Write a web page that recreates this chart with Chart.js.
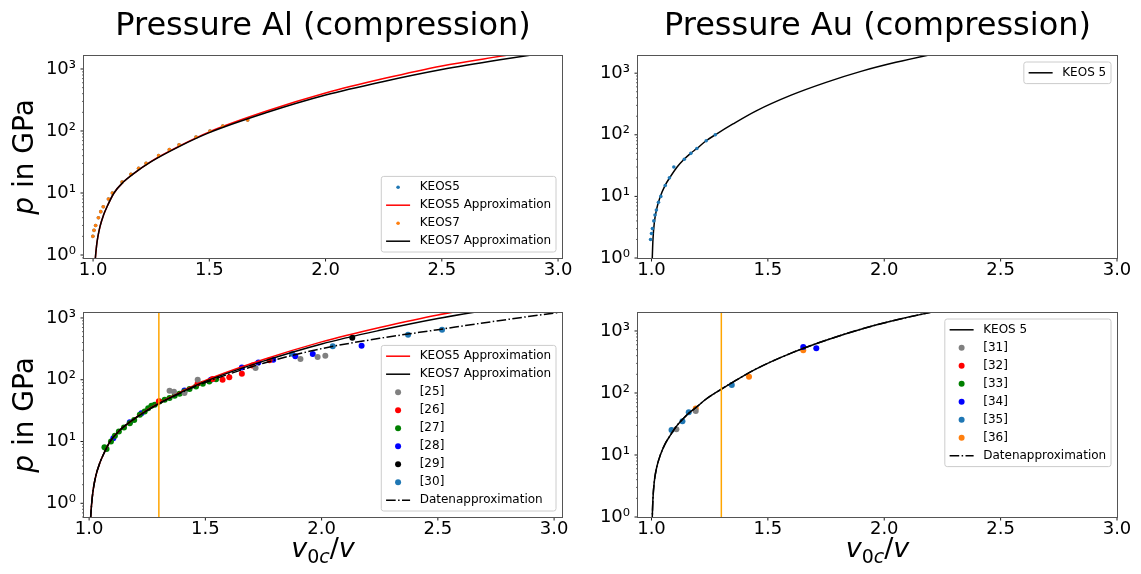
<!DOCTYPE html>
<html>
<head>
<meta charset="utf-8">
<script src="https://cdn.jsdelivr.net/npm/chart.js@4.4.1/dist/chart.umd.min.js"></script>
<style>
  html, body { margin: 0; padding: 0; background: #fff; }
  #page { position: relative; width: 1141px; height: 574px; overflow: hidden; background: #fff; }
  #page canvas { position: absolute; }
</style>
</head>
<body>
<div id="page">
  <canvas id="alTop" width="580" height="290" style="left:0;top:0"></canvas>
  <canvas id="auTop" width="561" height="290" style="left:580px;top:0"></canvas>
  <canvas id="alBottom" width="580" height="284" style="left:0;top:290px"></canvas>
  <canvas id="auBottom" width="561" height="284" style="left:580px;top:290px"></canvas>
</div>
<script>
// axis ticks
const xTickValues = [1.0, 1.5, 2.0, 2.5, 3.0];
const decadeValues = [1, 10, 100, 1000];
const decadeLabels = ['10⁰', '10¹', '10²', '10³'];
const minorSteps = [1, 2, 3, 4, 5, 6, 7, 8, 9];

// Al: KEOS tables (v0c/v, p in GPa)
const alKeos5X = [0.999, 1.004, 1.011, 1.023, 1.033, 1.044, 1.066, 1.083, 1.125, 1.163, 1.196, 1.228, 1.282, 1.328, 1.370, 1.443, 1.503, 1.558, 1.665];
const alKeos5P = [2, 2.5, 3, 4, 5, 6, 8, 10, 15, 20, 25, 30, 40, 50, 60, 80, 100, 120, 150];
const alKeos7X = [0.999, 1.004, 1.011, 1.023, 1.033, 1.044, 1.066, 1.083, 1.125, 1.163, 1.196, 1.228, 1.282, 1.328, 1.370, 1.443, 1.503, 1.558, 1.665];
const alKeos7P = [2, 2.5, 3, 4, 5, 6, 8, 10, 15, 20, 25, 30, 40, 50, 60, 80, 100, 120, 150];

// Al: fitted curves
const alFitX = [1.006, 1.01, 1.015, 1.02, 1.03, 1.045, 1.06, 1.09, 1.13, 1.17, 1.25, 1.37, 1.5, 1.75, 2.0, 2.25, 2.5, 2.75, 3.0, 3.1];
const alKeos5FitP = [0.55, 0.9, 1.4, 1.9, 2.9, 4.4, 6.0, 10, 15, 20, 32.5, 57, 97, 212, 410, 700, 1120, 1600, 2250, 2550];
const alKeos7FitP = [0.55, 0.9, 1.4, 1.9, 2.9, 4.4, 6.0, 10, 15, 20, 32, 56, 94, 200, 380, 630, 980, 1410, 1950, 2200];
const alDataFitP = [0.55, 0.9, 1.4, 1.9, 2.9, 4.4, 6.0, 10, 15, 20, 32, 55.5, 90, 185, 319, 468, 646, 890, 1200, 1340];

// Al: measurements
const al25X = [1.346, 1.365, 1.41, 1.467, 1.716, 1.909, 1.983, 2.016];
const al25P = [66.5, 64, 61, 100, 155, 216, 233, 245];
const al26X = [1.30, 1.467, 1.531, 1.574, 1.603, 1.657, 1.702, 1.776];
const al26P = [45, 88, 103, 100, 110, 125, 170, 206];
const al27X = [1.066, 1.075, 1.094, 1.111, 1.128, 1.150, 1.175, 1.194, 1.218, 1.239, 1.254, 1.268, 1.282, 1.303, 1.325, 1.346, 1.368, 1.389, 1.41, 1.432, 1.46, 1.489, 1.517, 1.546];
const al27P = [8.1, 7.6, 10, 12.4, 14.5, 16.9, 19.8, 22.4, 27, 30.6, 34.7, 37.9, 39.3, 44.5, 47.4, 50.5, 55, 59.3, 64.7, 70.5, 78, 86, 93.7, 102];
const al28X = [1.104, 1.175, 1.225, 1.41, 1.524, 1.657, 1.728, 1.792, 1.887, 1.962, 2.172];
const al28P = [11.3, 20.6, 28.8, 67, 100, 158, 191, 211, 240, 261, 356];
const al29X = [2.132];
const al29P = [480];
const al30X = [1.873, 2.048, 2.372, 2.518];
const al30P = [264, 347, 537, 647];

// Au: KEOS 5 table and curves
const auKeos5X = [0.996, 1.0, 1.004, 1.010, 1.015, 1.021, 1.030, 1.040, 1.059, 1.077, 1.096, 1.141, 1.169, 1.195, 1.235, 1.274];
const auKeos5P = [2, 2.5, 3, 4, 5, 6, 8, 10, 15, 20, 30, 40, 50, 60, 80, 100];
const auFitX = [1.002, 1.006, 1.012, 1.021, 1.038, 1.058, 1.078, 1.11, 1.14, 1.168, 1.195, 1.235, 1.274, 1.35, 1.45, 1.6, 1.75, 1.9, 2.05, 2.2, 2.4];
const auFitP = [0.7, 1.9, 3.7, 6, 10, 15, 20, 30, 40, 50, 60, 80, 100, 150, 245, 440, 710, 1070, 1500, 2000, 2850];
const auDataFitP = [0.7, 1.9, 3.7, 6, 10, 15, 20, 30, 40, 50, 60, 80, 100, 150, 245, 440, 710, 1070, 1500, 2000, 2850];

// Au: measurements
const au31X = [1.107, 1.19];
const au31P = [26, 51];
const au32X = [];
const au32P = [];
const au33X = [];
const au33P = [];
const au34X = [1.652, 1.708];
const au34P = [552, 526];
const au35X = [1.086, 1.133, 1.16, 1.345];
const au35P = [25.3, 35, 49, 135];
const au36X = [1.19, 1.419, 1.652];
const au36P = [56, 182, 490];

// compression marker
const markV = 1.3;

Chart.defaults.font.family = '"DejaVu Sans", sans-serif';
Chart.defaults.color = '#000';

const FONT = '"DejaVu Sans", sans-serif';
const pts = (xs, ps) => xs.map((x, i) => ({ x, y: ps[i] }));

function curve(label, xs, ps, color, z, dash) {
  return {
    label, data: pts(xs, ps), showLine: true, borderColor: color, borderWidth: 1.5,
    borderDash: dash || [], pointRadius: 0, cubicInterpolationMode: 'monotone', clip: 0, order: 10 - z
  };
}
function dots(label, xs, ps, color, r, z) {
  return {
    label, data: pts(xs, ps), showLine: false, backgroundColor: color, pointBackgroundColor: color,
    pointBorderWidth: 0, pointRadius: r, pointHoverRadius: r, order: 10 - z
  };
}

// v0c/v and p labels, with italic math letters
const yTitleRuns = [
  { text: 'p', italic: true, size: 28 },
  { text: ' in GPa', size: 28 }
];
const xTitleRuns = [
  { text: 'v', italic: true, size: 27 },
  { text: '0', size: 19, dy: 6 },
  { text: 'c', italic: true, size: 19, dy: 6 },
  { text: '/', size: 27 },
  { text: 'v', italic: true, size: 27 }
];

function drawRuns(ctx, runs, cx, baseline) {
  const fontOf = r => `${r.italic ? 'italic ' : ''}${r.size}px ${FONT}`;
  let total = 0;
  runs.forEach(r => { ctx.font = fontOf(r); r.w = ctx.measureText(r.text).width; total += r.w; });
  let x = cx - total / 2;
  ctx.textAlign = 'left';
  ctx.textBaseline = 'alphabetic';
  runs.forEach(r => { ctx.font = fontOf(r); ctx.fillText(r.text, x, baseline + (r.dy || 0)); x += r.w; });
}

const axisTitles = {
  id: 'axisTitles',
  afterDraw(chart, args, opts) {
    const { ctx, chartArea: a } = chart;
    ctx.save();
    ctx.fillStyle = '#000';
    if (opts.y) {
      ctx.translate(a.left - 51, (a.top + a.bottom) / 2);
      ctx.rotate(-Math.PI / 2);
      drawRuns(ctx, yTitleRuns, 0, 0);
      ctx.setTransform(1, 0, 0, 1, 0, 0);
    }
    if (opts.x) drawRuns(ctx, xTitleRuns, (a.left + a.right) / 2, a.bottom + 40);
    ctx.restore();
  }
};

// orange vertical reference line
const markerLine = {
  id: 'markerLine',
  afterDatasetsDraw(chart, args, opts) {
    if (opts.value == null) return;
    const { ctx, chartArea: a, scales: { x } } = chart;
    const px = x.getPixelForValue(opts.value);
    ctx.save();
    ctx.strokeStyle = '#ffa500';
    ctx.lineWidth = 1.5;
    ctx.beginPath();
    ctx.moveTo(px, a.top);
    ctx.lineTo(px, a.bottom);
    ctx.stroke();
    ctx.restore();
  }
};

// box frame plus outward tick marks (minor ticks shorter)
const frameTicks = {
  id: 'frameTicks',
  afterDatasetsDraw(chart) {
    const { ctx, chartArea: a, scales: { x, y } } = chart;
    ctx.save();
    ctx.strokeStyle = '#000';
    const seg = (x1, y1, x2, y2, w) => {
      ctx.lineWidth = w;
      ctx.beginPath(); ctx.moveTo(x1, y1); ctx.lineTo(x2, y2); ctx.stroke();
    };
    x.ticks.forEach(t => {
      const px = x.getPixelForValue(t.value);
      seg(px, a.bottom, px, a.bottom + 3.5, 0.9);
    });
    y.ticks.forEach(t => {
      const py = y.getPixelForValue(t.value);
      const major = decadeValues.includes(t.value);
      seg(a.left - (major ? 3.5 : 2), py, a.left, py, major ? 0.9 : 0.6);
    });
    ctx.strokeStyle = '#555';
    ctx.lineWidth = 1;
    ctx.strokeRect(a.left - 0.5, a.top - 0.5, a.right - a.left + 1, a.bottom - a.top + 1);
    ctx.restore();
  }
};

// legend box drawn inside the plot area
const boxLegend = {
  id: 'boxLegend',
  afterDraw(chart, args, opts) {
    const items = chart.data.datasets.filter(ds => ds.label);
    if (!items.length) return;
    const { ctx, chartArea: a } = chart;
    const fs = opts.fontSize;
    const pad = 0.4 * fs, handleLen = 2 * fs, textPad = 0.8 * fs, gap = 0.5 * fs, inset = 0.5 * fs;
    ctx.save();
    ctx.font = `${fs}px ${FONT}`;
    const textW = Math.max(...items.map(ds => ctx.measureText(ds.label).width));
    const w = pad * 2 + handleLen + textPad + textW;
    const h = pad * 2 + items.length * fs + (items.length - 1) * gap;
    const bx = a.right - inset - w;
    const by = opts.corner === 'upper' ? a.top + inset : a.bottom - inset - h;
    ctx.beginPath();
    ctx.roundRect(bx, by, w, h, 0.2 * fs);
    ctx.fillStyle = 'rgba(255,255,255,0.8)';
    ctx.fill();
    ctx.strokeStyle = '#cccccc';
    ctx.lineWidth = 1;
    ctx.stroke();
    items.forEach((ds, i) => {
      const cy = by + pad + i * (fs + gap) + fs / 2;
      const hx = bx + pad;
      if (ds.showLine) {
        ctx.setLineDash(ds.borderDash || []);
        ctx.strokeStyle = ds.borderColor;
        ctx.lineWidth = ds.borderWidth;
        ctx.beginPath(); ctx.moveTo(hx, cy); ctx.lineTo(hx + handleLen, cy); ctx.stroke();
        ctx.setLineDash([]);
      } else {
        ctx.fillStyle = ds.backgroundColor;
        ctx.beginPath(); ctx.arc(hx + handleLen / 2, cy, ds.pointRadius, 0, Math.PI * 2); ctx.fill();
      }
      ctx.fillStyle = '#000';
      ctx.textAlign = 'left';
      ctx.textBaseline = 'middle';
      ctx.fillText(ds.label, hx + handleLen + textPad, cy);
    });
    ctx.restore();
  }
};

function axes(cfg) {
  return {
    x: {
      type: 'linear', min: cfg.xRange[0], max: cfg.xRange[1],
      afterBuildTicks: s => { s.ticks = xTickValues.map(v => ({ value: v })); },
      afterFit: s => { s.height = cfg.xHeight; },
      ticks: { autoSkip: false, maxRotation: 0, padding: 2, font: { size: 18 }, color: '#000', callback: v => v.toFixed(1) },
      grid: { display: true, drawOnChartArea: false, drawTicks: false },
      border: { display: false }
    },
    y: {
      type: 'logarithmic', min: cfg.yRange[0], max: cfg.yRange[1],
      afterBuildTicks: s => {
        const list = [];
        [0.1, ...decadeValues].forEach(d => minorSteps.forEach(m => {
          const v = m * d;
          if (v >= s.min && v <= s.max) list.push({ value: v });
        }));
        s.ticks = list;
      },
      afterFit: s => { s.width = cfg.yWidth; },
      ticks: {
        autoSkip: false, padding: 8, font: { size: 18 }, color: '#000',
        callback: v => { const i = decadeValues.indexOf(v); return i >= 0 ? decadeLabels[i] : ''; }
      },
      grid: { display: true, drawOnChartArea: false, drawTicks: false },
      border: { display: false }
    }
  };
}

function makeChart(id, cfg) {
  return new Chart(document.getElementById(id), {
    type: 'scatter',
    data: { datasets: cfg.datasets },
    options: {
      animation: false, responsive: false, devicePixelRatio: 1, events: [],
      layout: { padding: cfg.padding },
      scales: axes(cfg),
      plugins: {
        legend: { display: false },
        tooltip: { enabled: false },
        title: cfg.title
          ? { display: true, fullSize: false, text: cfg.title, font: { size: 32, weight: 'normal' }, color: '#000', padding: { top: 7, bottom: 10.6 } }
          : { display: false },
        boxLegend: { corner: cfg.legendCorner, fontSize: 12 },
        markerLine: { value: cfg.mark },
        axisTitles: { x: !!cfg.xTitle, y: !!cfg.yTitle }
      }
    },
    plugins: [markerLine, frameTicks, boxLegend, axisTitles]
  });
}

makeChart('alTop', {
  title: 'Pressure Al (compression)', yTitle: true, legendCorner: 'lower',
  xRange: [0.961, 3.017], yRange: [0.895, 1620], yWidth: 84, xHeight: 32,
  padding: { left: 0, right: 18, top: 0, bottom: 0 },
  datasets: [
    dots('KEOS5', alKeos5X, alKeos5P, '#1f77b4', 1.8, 1),
    curve('KEOS5 Approximation', alFitX, alKeos5FitP, '#ff0000', 2),
    dots('KEOS7', alKeos7X, alKeos7P, '#ff7f0e', 1.8, 3),
    curve('KEOS7 Approximation', alFitX, alKeos7FitP, '#000000', 4)
  ]
});

makeChart('auTop', {
  title: 'Pressure Au (compression)', legendCorner: 'upper',
  xRange: [0.942, 3.0], yRange: [1, 1900], yWidth: 58, xHeight: 32,
  padding: { left: 0, right: 24, top: 0, bottom: 0 },
  datasets: [
    curve('KEOS 5', auFitX, auFitP, '#000000', 1),
    dots(undefined, auKeos5X, auKeos5P, '#1f77b4', 1.8, 2)
  ]
});

makeChart('alBottom', {
  yTitle: true, xTitle: true, legendCorner: 'lower', mark: markV,
  xRange: [0.978, 3.034], yRange: [0.642, 1203], yWidth: 84, xHeight: 57,
  padding: { left: 0, right: 18, top: 23, bottom: 0 },
  datasets: [
    curve('KEOS5 Approximation', alFitX, alKeos5FitP, '#ff0000', 3),
    curve('KEOS7 Approximation', alFitX, alKeos7FitP, '#000000', 4),
    dots('[25]', al25X, al25P, '#808080', 3, 1),
    dots('[26]', al26X, al26P, '#ff0000', 3, 1),
    dots('[27]', al27X, al27P, '#008000', 3, 1),
    dots('[28]', al28X, al28P, '#0000ff', 3, 1),
    dots('[29]', al29X, al29P, '#000000', 3, 1),
    dots('[30]', al30X, al30P, '#1f77b4', 3, 1),
    curve('Datenapproximation', alFitX, alDataFitP, '#000000', 5, [9.6, 2.4, 1.5, 2.4])
  ]
});

makeChart('auBottom', {
  xTitle: true, legendCorner: 'upper', mark: markV,
  xRange: [0.942, 3.0], yRange: [1, 1950], yWidth: 58, xHeight: 57,
  padding: { left: 0, right: 24, top: 23, bottom: 0 },
  datasets: [
    curve('KEOS 5', auFitX, auFitP, '#000000', 3),
    dots('[31]', au31X, au31P, '#808080', 3, 1),
    dots('[32]', au32X, au32P, '#ff0000', 3, 1),
    dots('[33]', au33X, au33P, '#008000', 3, 1),
    dots('[34]', au34X, au34P, '#0000ff', 3, 1),
    dots('[35]', au35X, au35P, '#1f77b4', 3, 1),
    dots('[36]', au36X, au36P, '#ff7f0e', 3, 1),
    curve('Datenapproximation', auFitX, auDataFitP, '#000000', 4, [9.6, 2.4, 1.5, 2.4])
  ]
});
</script>
</body>
</html>
